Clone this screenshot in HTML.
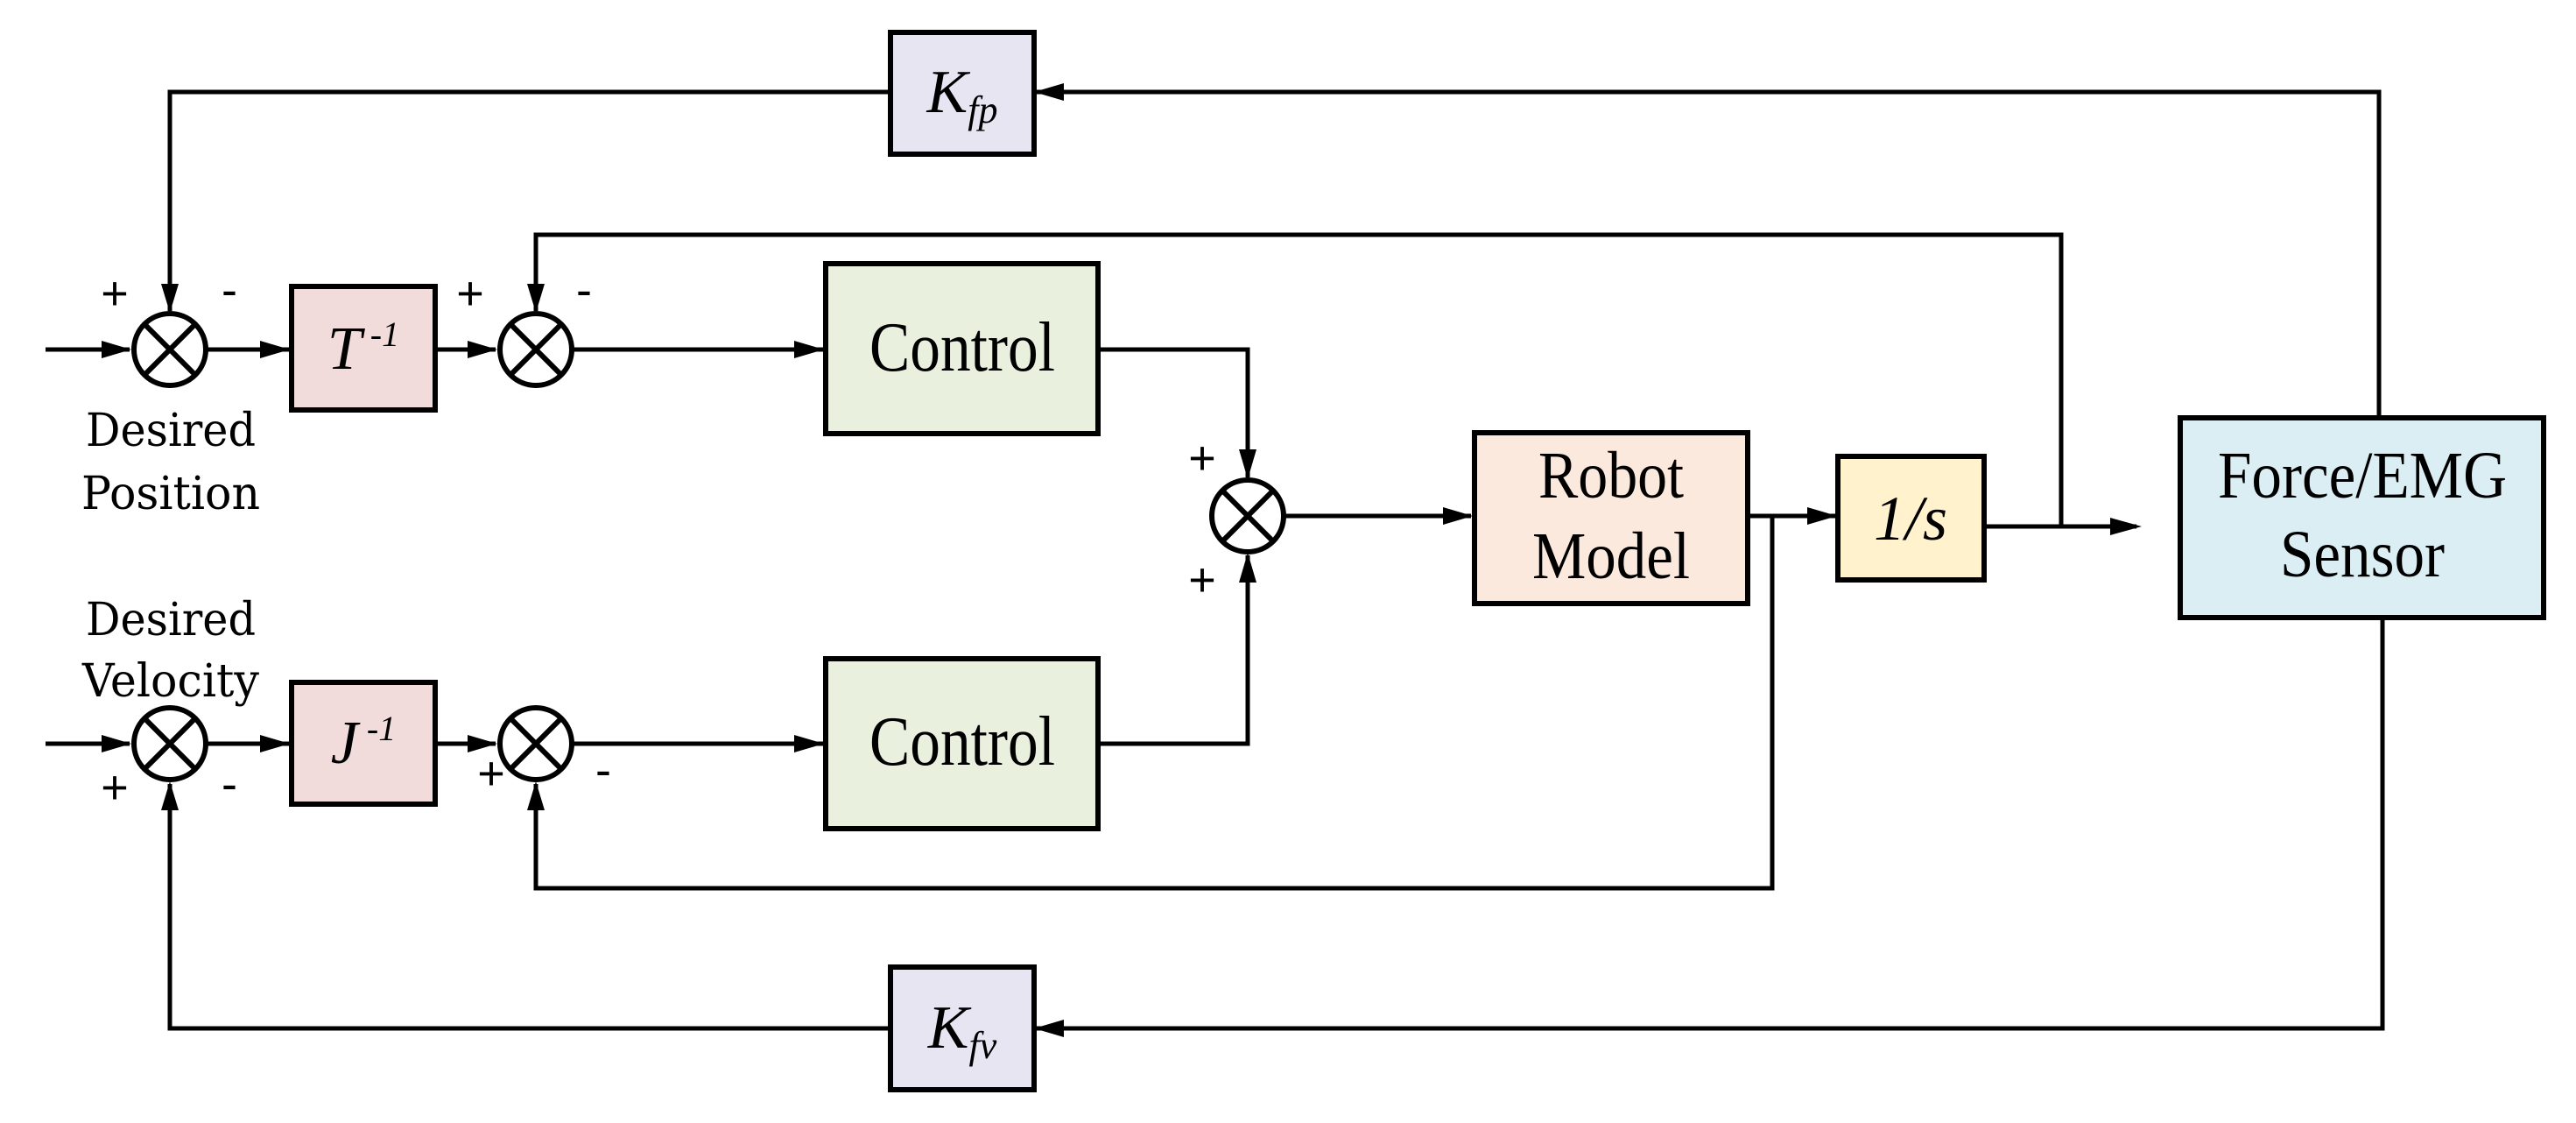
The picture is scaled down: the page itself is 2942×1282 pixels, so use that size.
<!DOCTYPE html>
<html><head><meta charset="utf-8"><style>body{margin:0;background:#fff}svg{display:block}</style></head>
<body>
<svg width="2942" height="1282" viewBox="0 0 2942 1282" xmlns="http://www.w3.org/2000/svg">
<g stroke="#000" stroke-width="5" fill="none">
<polyline points="2717,477 2717,105 1181,105"/>
<polyline points="1017,105 194,105 194,355"/>
<polyline points="2354,601 2354,268 612,268 612,355"/>
<line x1="52" y1="399" x2="148" y2="399"/>
<line x1="236" y1="399" x2="330" y2="399"/>
<line x1="497" y1="399" x2="566" y2="399"/>
<line x1="654" y1="399" x2="940" y2="399"/>
<polyline points="1254,399 1425,399 1425,545"/>
<line x1="1467" y1="589" x2="1680" y2="589"/>
<line x1="1996" y1="589" x2="2096" y2="589"/>
<polyline points="2024,589 2024,1014 612,1014 612,895"/>
<line x1="2266" y1="601" x2="2440" y2="601"/>
<line x1="52" y1="849" x2="148" y2="849"/>
<line x1="236" y1="849" x2="330" y2="849"/>
<line x1="497" y1="849" x2="566" y2="849"/>
<line x1="654" y1="849" x2="940" y2="849"/>
<polyline points="1254,849 1425,849 1425,634"/>
<polyline points="2721,705 2721,1174 1181,1174"/>
<polyline points="1017,1174 194,1174 194,895"/>
</g>
<g fill="#000">
<polygon points="1181,105 1215,95 1215,115"/>
<polygon points="194,357 184,324 204,324"/>
<polygon points="612,357 602,324 622,324"/>
<polygon points="150,399 116,389 116,409"/>
<polygon points="331,399 297,389 297,409"/>
<polygon points="568,399 534,389 534,409"/>
<polygon points="941,399 907,389 907,409"/>
<polygon points="1425,547 1415,513 1435,513"/>
<polygon points="1425,631 1415,665 1435,665"/>
<polygon points="1682,589 1648,579 1648,599"/>
<polygon points="2098,589 2064,579 2064,599"/>
<polygon points="2446,601 2410,591 2410,611"/>
<polygon points="150,849 116,839 116,859"/>
<polygon points="331,849 297,839 297,859"/>
<polygon points="568,849 534,839 534,859"/>
<polygon points="941,849 907,839 907,859"/>
<polygon points="612,892 602,925 622,925"/>
<polygon points="194,892 184,925 204,925"/>
<polygon points="1181,1174 1215,1164 1215,1184"/>
</g>
<g stroke="#000" stroke-width="6" fill="#fff">
<g transform="translate(194,399)"><circle r="41"/><line x1="-29" y1="-29" x2="29" y2="29"/><line x1="29" y1="-29" x2="-29" y2="29"/></g>
<g transform="translate(612,399)"><circle r="41"/><line x1="-29" y1="-29" x2="29" y2="29"/><line x1="29" y1="-29" x2="-29" y2="29"/></g>
<g transform="translate(1425,589)"><circle r="41"/><line x1="-29" y1="-29" x2="29" y2="29"/><line x1="29" y1="-29" x2="-29" y2="29"/></g>
<g transform="translate(194,849)"><circle r="41"/><line x1="-29" y1="-29" x2="29" y2="29"/><line x1="29" y1="-29" x2="-29" y2="29"/></g>
<g transform="translate(612,849)"><circle r="41"/><line x1="-29" y1="-29" x2="29" y2="29"/><line x1="29" y1="-29" x2="-29" y2="29"/></g>
</g>
<g stroke="#000" stroke-width="6">
<rect x="1017" y="37" width="164" height="139" fill="#e7e5f1"/>
<rect x="1017" y="1104" width="164" height="140" fill="#e7e5f1"/>
<rect x="333" y="327" width="164" height="141" fill="#f1dcdb"/>
<rect x="333" y="779" width="164" height="139" fill="#f1dcdb"/>
<rect x="943" y="301" width="311" height="194" fill="#e9f0de"/>
<rect x="943" y="752" width="311" height="194" fill="#e9f0de"/>
<rect x="1684" y="494" width="312" height="195" fill="#fce9dd"/>
<rect x="2099" y="521" width="167" height="141" fill="#fff2cd"/>
<rect x="2490" y="477" width="415" height="228" fill="#dbeef4"/>
</g>
<g font-family="Liberation Serif, serif" fill="#000" text-anchor="middle">
<text x="1099" y="128" font-size="70" font-style="italic">K<tspan font-size="44" dy="12">fp</tspan></text>
<text x="1099" y="1196" font-size="70" font-style="italic">K<tspan font-size="44" dy="12">fv</tspan></text>
<text x="415" y="421" font-size="70" font-style="italic">T<tspan font-size="40" dy="-26"> -1</tspan></text>
<text x="415" y="871" font-size="70" font-style="italic">J<tspan font-size="40" dy="-26"> -1</tspan></text>
<text x="1099" y="423" font-size="80" textLength="212" lengthAdjust="spacingAndGlyphs">Control</text>
<text x="1099" y="873" font-size="80" textLength="212" lengthAdjust="spacingAndGlyphs">Control</text>
<text x="1840" y="568" font-size="76" textLength="166" lengthAdjust="spacingAndGlyphs">Robot</text>
<text x="1840" y="660" font-size="76" textLength="180" lengthAdjust="spacingAndGlyphs">Model</text>
<text x="2182" y="616" font-size="72" font-style="italic">1/s</text>
<text x="2698" y="568" font-size="76" textLength="330" lengthAdjust="spacingAndGlyphs">Force/EMG</text>
<text x="2698" y="658" font-size="76" textLength="188" lengthAdjust="spacingAndGlyphs">Sensor</text>
</g>
<g font-family="DejaVu Serif, serif" fill="#000" text-anchor="middle" font-size="52">
<text x="195" y="509" textLength="194" lengthAdjust="spacingAndGlyphs">Desired</text>
<text x="195" y="581" textLength="204" lengthAdjust="spacingAndGlyphs">Position</text>
<text x="195" y="725" textLength="194" lengthAdjust="spacingAndGlyphs">Desired</text>
<text x="195" y="795" textLength="202" lengthAdjust="spacingAndGlyphs">Velocity</text>
</g>
<g font-family="Liberation Sans, sans-serif" fill="#000" text-anchor="middle" font-size="54">
<text x="131" y="353">+</text><text x="262" y="349">-</text>
<text x="537" y="353">+</text><text x="667" y="349">-</text>
<text x="1373" y="541">+</text><text x="1373" y="680">+</text>
<text x="131" y="917">+</text><text x="262" y="913">-</text>
<text x="561" y="901">+</text><text x="689" y="897">-</text>
</g>
</svg>
</body></html>
